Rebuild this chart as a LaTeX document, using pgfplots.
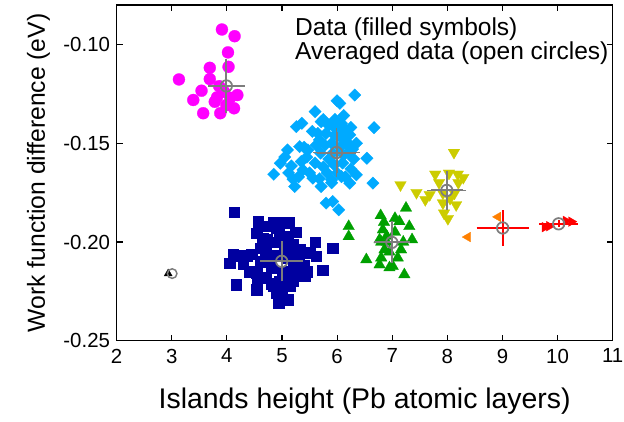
\documentclass[border=0pt]{standalone}
\usepackage{pgfplots}
\pgfplotsset{compat=1.18}
\usepackage{fontspec}
\setmainfont{Liberation Sans}
\definecolor{cmag}{RGB}{255,0,255}
\definecolor{ccyan}{RGB}{0,170,255}
\definecolor{cnavy}{RGB}{0,0,160}
\definecolor{cgreen}{RGB}{0,160,0}
\definecolor{cyel}{RGB}{204,204,0}
\definecolor{corange}{RGB}{255,128,0}
\definecolor{cred}{RGB}{255,0,0}
\definecolor{cgray}{RGB}{125,125,125}
\begin{document}
\begin{tikzpicture}
\useasboundingbox (-87.5pt,-60.2pt) rectangle (380.5pt,255.55pt);
\begin{axis}[
  at={(0,0)}, anchor=south west,
  scale only axis, width=372pt, height=251.8pt,
  xmin=2, xmax=11, ymin=-0.25, ymax=-0.08,
  xtick={2,3,4,5,6,7,8,9,10,11},
  xticklabels={2,3,4,5,6,7,8,9,10,11},
  ytick={-0.25,-0.2,-0.15,-0.1},
  yticklabels={-0.25,-0.20,-0.15,-0.10},
  tick align=inside, major tick length=4.5pt,
  axis line style={line width=0.9pt},
  tick style={line width=0.8pt, black},
  /pgf/number format/assume math mode=true,
  ticklabel style={font=\fontsize{15.3}{18}\selectfont},
  xticklabel style={yshift=-2.5pt},
  yticklabel style={xshift=-1.5pt},
  xlabel={Islands height (Pb atomic layers)},
  ylabel={Work function difference (eV)},
  xlabel style={font=\fontsize{21.3}{25}\selectfont, at={(axis description cs:0.5,-0.2005)}, anchor=base},
  ylabel style={font=\fontsize{18.5}{22}\selectfont, at={(axis description cs:-0.1446,0.5)}, anchor=base},
  clip=false,
  clip marker paths=true,
]
% magenta circles (4 layers)
\addplot[only marks, mark=*, mark size=4.5pt, mark options={draw=cmag, fill=cmag, line width=0.2pt}] coordinates {
(3.91,-0.0924) (4.14,-0.0958) (4.02,-0.104) (4.03,-0.1113) (3.69,-0.1118)
(3.13,-0.1177) (3.69,-0.1175) (3.86,-0.1211) (3.54,-0.1234) (3.39,-0.1281)
(3.82,-0.1268) (4.19,-0.1256) (3.99,-0.1307) (4.13,-0.1323) (3.57,-0.1348)
(3.88,-0.1348) (3.95,-0.124) (4.06,-0.127) (3.78,-0.129)
};
% cyan diamonds (6 layers)
\addplot[only marks, mark=square*, mark size=3.3pt, mark options={rotate=45, draw=ccyan, fill=ccyan, line width=0.2pt}] coordinates {
(6.32,-0.1256) (6.05,-0.1298) (6.00,-0.1285) (5.60,-0.134) (5.36,-0.1399)
(5.26,-0.1416) (5.71,-0.1391) (5.96,-0.1379) (6.08,-0.1399) (6.67,-0.1421)
(6.23,-0.1458) (5.68,-0.1483) (5.10,-0.1534) (5.32,-0.1517) (5.47,-0.1534)
(6.20,-0.150) (6.54,-0.1576) (4.97,-0.1601) (5.17,-0.1615) (4.85,-0.1657)
(5.35,-0.1593) (5.38,-0.1635) (5.56,-0.1677) (5.20,-0.1682) (5.23,-0.1719)
(5.71,-0.1719) (5.90,-0.1685) (6.08,-0.1669) (6.23,-0.1702) (6.35,-0.166)
(6.65,-0.1702) (5.80,-0.1803) (5.92,-0.1795) (6.03,-0.1837)
(5.8,-0.145) (5.9,-0.15) (6.1,-0.148) (6.2,-0.155) (5.85,-0.158)
(6.1,-0.16) (5.7,-0.155) (6.0,-0.165) (6.3,-0.158) (5.95,-0.142)
(6.15,-0.143) (5.75,-0.162) (5.6,-0.16) (6.25,-0.163) (5.5,-0.165)
(5.9,-0.17) (6.05,-0.152) (6.35,-0.15) (5.65,-0.145) (5.55,-0.144)
(5.45,-0.157) (5.3,-0.167)
(5.75,-0.138) (6.12,-0.136) (6.25,-0.142) (5.85,-0.141) (5.95,-0.146)
(6.05,-0.144) (6.18,-0.151) (5.78,-0.151) (5.92,-0.155) (6.12,-0.156)
(6.28,-0.153) (5.68,-0.168) (5.82,-0.165) (6.15,-0.167) (5.95,-0.161)
(5.62,-0.151) (5.4,-0.152) (5.12,-0.165) (5.05,-0.157)
};
% navy squares (5 layers)
\addplot[only marks, mark=square*, mark size=3.9pt, mark options={draw=cnavy, fill=cnavy, line width=0.2pt}] coordinates {
(4.13,-0.1848) (4.57,-0.1896) (5.12,-0.1901) (5.92,-0.203) (4.11,-0.2064)
(4.05,-0.2106) (4.17,-0.2216) (4.54,-0.2241) (4.94,-0.2308) (5.11,-0.2291)
(5.74,-0.2143) (5.62,-0.2073) (5.41,-0.2174) (5.20,-0.2199) (4.36,-0.2073)
(4.54,-0.1955) (4.72,-0.1988) (4.54,-0.2157) (4.84,-0.2224) (5.32,-0.2039)
(5.50,-0.2056)
(4.9,-0.193) (5.1,-0.197) (4.8,-0.2) (5.0,-0.2) (5.2,-0.201) (4.7,-0.205)
(4.9,-0.207) (5.1,-0.208) (5.3,-0.21) (4.6,-0.21) (4.8,-0.213) (5.0,-0.215)
(5.2,-0.214) (4.7,-0.218) (4.95,-0.22) (5.15,-0.222) (5.4,-0.212) (4.45,-0.206)
(4.3,-0.211) (4.6,-0.203) (5.05,-0.19) (4.85,-0.19) (5.25,-0.195) (4.4,-0.215)
(5.45,-0.215) (4.9,-0.226) (5.0,-0.225)
(4.7,-0.192) (4.95,-0.196) (4.65,-0.198) (4.75,-0.209) (5.05,-0.204)
(5.15,-0.203) (4.55,-0.219) (4.8,-0.221) (5.05,-0.218) (4.25,-0.207)
(5.6,-0.2) (5.45,-0.205)
};
% green up triangles (7 layers)
\addplot[only marks, mark=triangle*, mark size=5pt, mark options={draw=cgreen, fill=cgreen, line width=0.2pt}] coordinates {
(7.25,-0.1828) (6.79,-0.1866) (7.13,-0.1896) (7.31,-0.1921) (6.21,-0.1921)
(6.21,-0.1972) (7.36,-0.1988) (6.53,-0.2089) (6.77,-0.2115) (7.01,-0.2123)
(7.22,-0.2165) (6.83,-0.1938) (6.86,-0.2039) (7.16,-0.2039) (6.77,-0.1988)
(6.85,-0.19) (6.9,-0.197) (7.05,-0.195) (6.95,-0.205) (7.1,-0.208)
(6.8,-0.208) (6.95,-0.213) (7.2,-0.2) (7.05,-0.188) (6.9,-0.2) (6.8,-0.2)
};
% yellow down triangles (8 layers)
\addplot[only marks, mark=triangle*, mark size=5pt, mark options={rotate=180, draw=cyel, fill=cyel, line width=0.2pt}] coordinates {
(8.12,-0.1547) (7.78,-0.1657) (8.03,-0.1652) (8.19,-0.1657) (8.29,-0.1674)
(7.15,-0.1711) (7.44,-0.175) (7.60,-0.1786) (7.68,-0.1761) (7.92,-0.1803)
(8.16,-0.1812) (7.94,-0.1854) (8.01,-0.1882) (8.13,-0.1753) (7.92,-0.1753)
(8.2,-0.17) (8.05,-0.178) (7.85,-0.17)
};
% orange left triangles (9 layers)
\addplot[only marks, mark=triangle*, mark size=4.2pt, mark options={rotate=90, draw=corange, fill=corange, line width=0.2pt}] coordinates {
(8.37,-0.1975) (8.92,-0.1873)
};
% red right triangles (10 layers)
\addplot[only marks, mark=triangle*, mark size=4.2pt, mark options={rotate=-90, draw=cred, fill=cred, line width=0.2pt}] coordinates {
(9.77,-0.1925) (9.85,-0.192) (10.15,-0.1893) (10.25,-0.1897)
};
% black triangle (3 layers)
\addplot[only marks, mark=triangle*, mark size=3.5pt, mark options={draw=black, fill=black, line width=0.2pt}] coordinates {
(2.935,-0.216)
};
% averages with gray error bars
\addplot[cgray, only marks, mark=o, mark size=4.3pt, mark options={draw=cgray, line width=1.3pt},
  error bars/.cd, x dir=both, x explicit, y dir=both, y explicit,
  error bar style={line width=1.5pt, draw=cgray, solid},
  error mark options={draw=cgray, mark size=2.5pt, line width=1.4pt}] coordinates {
(3.99,-0.121) +- (0.27,0.012)
(5.99,-0.1547) +- (0.36,0.0105)
(4.995,-0.2098) +- (0.33,0.0084)
(6.993,-0.2002) +- (0.27,0.009)
(7.99,-0.1739) +- (0.29,0.0083)
};
% averages with red error bars
\addplot[cred, only marks, mark=o, mark size=4.3pt, mark options={draw=cgray, line width=1.3pt},
  error bars/.cd, x dir=both, x explicit, y dir=both, y explicit,
  error bar style={line width=1.5pt, draw=cred, solid},
  error mark options={draw=cred, mark size=2.5pt, line width=1.4pt}] coordinates {
(9.004,-0.1929) +- (0.41,0.0072)
(10.02,-0.1908) +- (0.29,0.0)
};
% lone average at 3 layers
\addplot[only marks, mark=o, mark size=3.6pt, mark options={draw=cgray, line width=1.1pt}] coordinates {
(3.007,-0.216)
};
\node[anchor=base west, font=\fontsize{18.4}{22}\selectfont, inner sep=0pt] at (axis description cs:0.3595,0.9106) {Data (filled symbols)};
\node[anchor=base west, font=\fontsize{18.4}{22}\selectfont, inner sep=0pt] at (axis description cs:0.3595,0.8362) {Averaged data (open circles)};
\end{axis}
\end{tikzpicture}
\end{document}
